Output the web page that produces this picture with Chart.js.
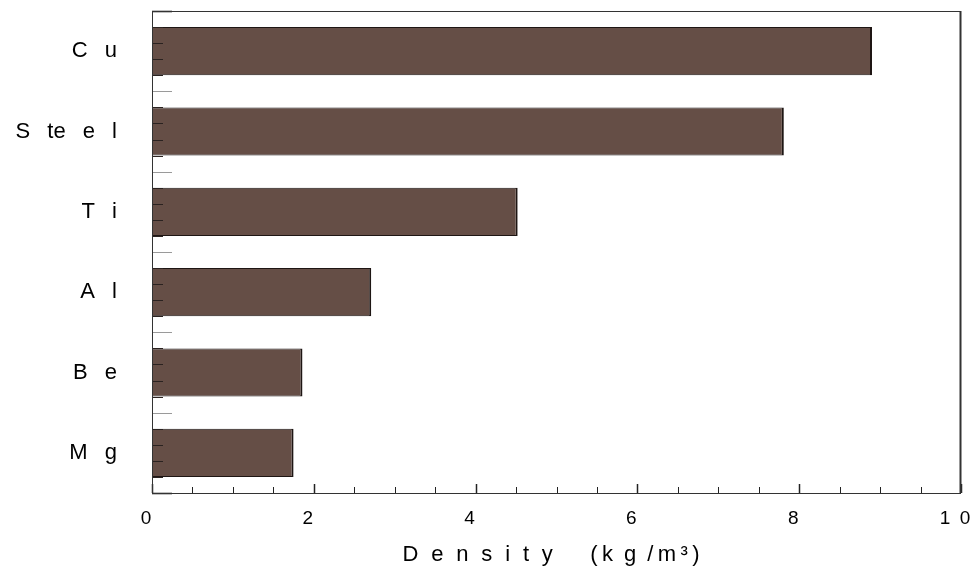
<!DOCTYPE html>
<html>
<head>
<meta charset="utf-8">
<script src="https://cdn.jsdelivr.net/npm/chart.js@4.4.1/dist/chart.umd.min.js"></script>
<style>
  html, body { margin: 0; padding: 0; background: #fff; }
  #wrap { width: 972px; height: 568px; }
</style>
</head>
<body>
<div id="wrap"><canvas id="chart" width="972" height="568"></canvas></div>
<script>
// ---- data ----
// labels are letter-spaced in the original, so en spaces sit between the glyphs
const metals    = ['C\u2002 u', 'S\u2002 te\u2002 e\u2002 l', 'T\u2002 i', 'A\u2002 l', 'B\u2002 e', 'M\u2002 g'];
const densities = [8.90, 7.81, 4.52, 2.71, 1.86, 1.75];
const xTicks    = [0, 2, 4, 6, 8, 10];
const xTickText = ['0', '2', '4', '6', '8', '1\u20020'];
const axisTitle = 'D\u2002\u200ae\u2002\u200an\u2002\u200as\u2002\u200ai\u2002\u200at\u2002\u200ay' +
                  '\u2003\u2002\u2009(\u2009k\u2002g\u2002/\u2009m\u2009\u00b3\u2009)\u2002';

const BAR_COLOR = '#654e46';
const FONT = '"Liberation Sans", Arial, Helvetica, sans-serif';

// inward tick marks + frame, drawn after the bars
const frameTicks = {
  id: 'frameTicks',
  afterDatasetsDraw(chart) {
    const { ctx, chartArea: a, scales: { x, y } } = chart;
    ctx.save();

    // y: category boundaries (long, grey) and fifths (short, dark)
    const step = y.getPixelForValue(1) - y.getPixelForValue(0);
    const y0 = y.getPixelForValue(0) - step / 2;
    for (let k = 0; k <= metals.length; k++) {
      for (let j = 0; j < 5; j++) {
        if (k === metals.length && j > 0) break;
        const py = Math.round(y0 + (k + j / 5) * step) + 0.5;
        ctx.beginPath();
        if (j === 0) {
          const edge = (k === 0 || k === metals.length);
          ctx.strokeStyle = edge ? '#000' : '#9a9a9a';
          ctx.lineWidth = edge ? 1.5 : 1;
          ctx.moveTo(a.left, py);
          ctx.lineTo(a.left + 20, py);
        } else {
          ctx.strokeStyle = '#2a2220';
          ctx.lineWidth = 1;
          ctx.moveTo(a.left, py);
          ctx.lineTo(a.left + 11, py);
        }
        ctx.stroke();
      }
    }

    // x: majors every 2, minors every 0.5
    ctx.strokeStyle = '#222';
    for (let v = 0; v <= 10; v += 0.5) {
      const px = Math.round(x.getPixelForValue(v)) + 0.5;
      const major = v % 2 === 0;
      ctx.lineWidth = major ? 1.5 : 1;
      ctx.beginPath();
      ctx.moveTo(px, a.bottom);
      ctx.lineTo(px, a.bottom - (major ? 9 : 6));
      ctx.stroke();
    }

    // frame
    ctx.strokeStyle = '#333';
    ctx.lineWidth = 1;
    ctx.strokeRect(a.left + 0.5, a.top + 0.5, a.right - a.left - 1, a.bottom - a.top);
    ctx.lineWidth = 2;
    ctx.beginPath();
    ctx.moveTo(a.right - 0.5, a.top);
    ctx.lineTo(a.right - 0.5, a.bottom);
    ctx.stroke();
    ctx.restore();
  }
};

function noPad(s) {
  s.paddingTop = 0; s.paddingBottom = 0; s.paddingLeft = 0; s.paddingRight = 0;
}

new Chart(document.getElementById('chart'), {
  type: 'bar',
  data: {
    labels: metals,
    datasets: [{
      data: densities,
      backgroundColor: BAR_COLOR,
      borderColor: '#1e1614',
      borderWidth: { top: 1, right: 2, bottom: 1, left: 0 },
      borderSkipped: 'left',
      categoryPercentage: 1,
      barPercentage: 0.6
    }]
  },
  options: {
    indexAxis: 'y',
    responsive: false,
    animation: false,
    layout: { padding: { top: 11, right: 11, left: 0, bottom: 0 } },
    plugins: { legend: { display: false }, tooltip: { enabled: false } },
    scales: {
      x: {
        min: 0, max: 10,
        afterFit: s => { s.height = 75; noPad(s); },
        afterBuildTicks: s => { s.ticks = xTicks.map(v => ({ value: v })); },
        grid: { display: false, drawTicks: false },
        border: { display: false },
        ticks: {
          color: '#000',
          padding: 14,
          labelOffset: -6,
          maxRotation: 0,
          font: { family: FONT, size: 19 },
          callback: (v) => xTickText[xTicks.indexOf(v)]
        },
        title: {
          display: true,
          text: axisTitle,
          color: '#000',
          padding: { top: 0, bottom: 0 },
          font: { family: FONT, size: 22 }
        }
      },
      y: {
        afterFit: s => { s.width = 152; noPad(s); },
        grid: { display: false, drawTicks: false },
        border: { display: false },
        ticks: {
          color: '#000',
          padding: 35,
          font: { family: FONT, size: 22 }
        }
      }
    }
  },
  plugins: [frameTicks]
});
</script>
</body>
</html>
